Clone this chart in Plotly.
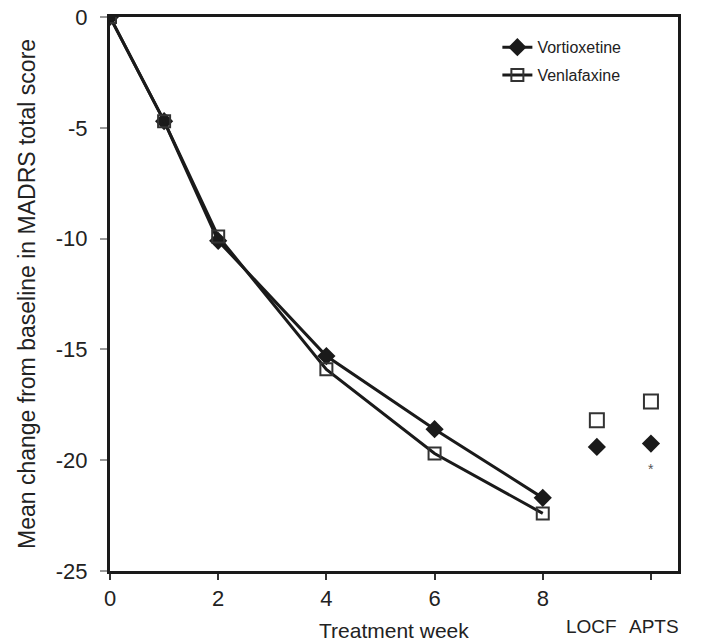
import plotly.graph_objects as go

weeks = [0, 1, 2, 4, 6, 8]
vortioxetine = [0, -4.7, -10.1, -15.3, -18.6, -21.7]
venlafaxine = [0, -4.7, -9.9, -15.9, -19.7, -22.4]
extra_x = [9, 10]
extra_labels = ["LOCF", "APTS"]
extra_label_x = [8.91, 10.05]
vort_extra = [-19.4, -19.25]
venl_extra = [-18.2, -17.35]
x_ticks = [0, 2, 4, 6, 8, 10]
x_ticktext = ["0", "2", "4", "6", "8", ""]
y_ticks = [0, -5, -10, -15, -20, -25]
y_ticktext = ["0", "-5", "-10", "-15", "-20", "-25"]

FONT = "Liberation Sans, Arial, sans-serif"
TXT = "#222222"
fig = go.Figure()
fig.add_trace(go.Scatter(x=weeks, y=vortioxetine, mode="lines+markers", name="Vortioxetine",
                         legendgroup="a",
                         line=dict(color="#1a1a1a", width=3),
                         marker=dict(symbol="diamond", size=14, color="#1a1a1a")))
fig.add_trace(go.Scatter(x=weeks, y=venlafaxine, mode="lines+markers", name="Venlafaxine",
                         legendgroup="b",
                         line=dict(color="#1a1a1a", width=3),
                         marker=dict(symbol="square-open", size=12, color="#333333", line=dict(width=2))))
fig.add_trace(go.Scatter(x=extra_x, y=vort_extra, mode="markers", showlegend=False,
                         marker=dict(symbol="diamond", size=14, color="#1a1a1a")))
fig.add_trace(go.Scatter(x=extra_x, y=venl_extra, mode="markers", showlegend=False,
                         marker=dict(symbol="square-open", size=14, color="#333333", line=dict(width=2))))

annotations = [
    dict(x=10, y=-20.4, text="*", showarrow=False, font=dict(size=14, color="#555", family=FONT)),
    dict(x=0.5, xref="paper", y=0, yref="paper", yshift=-59, yanchor="middle", xanchor="center",
         text="Treatment week", showarrow=False, font=dict(size=21, color=TXT, family=FONT)),
    dict(x=0, xref="paper", xshift=-83, y=0.5, yref="paper", xanchor="center", yanchor="middle",
         text="Mean change from baseline in MADRS total score",
         textangle=-90, showarrow=False, font=dict(size=23, color=TXT, family=FONT)),
]
for xv, lab in zip(extra_label_x, extra_labels):
    annotations.append(dict(x=xv, y=0, yref="paper", yshift=-55, text=lab, showarrow=False,
                            xanchor="center", yanchor="middle", font=dict(size=19, color=TXT, family=FONT)))

fig.update_layout(
    width=695, height=634, margin=dict(l=102, r=25, t=9, b=71, autoexpand=False),
    paper_bgcolor="white", plot_bgcolor="white",
    font=dict(family=FONT, size=18, color=TXT),
    annotations=annotations,
    legend=dict(x=0.682, y=0.976, xanchor="left", yanchor="top", bgcolor="rgba(0,0,0,0)",
                font=dict(size=16, family=FONT, color=TXT), tracegroupgap=4),
    xaxis=dict(range=[0, 10.5], tickvals=x_ticks, ticktext=x_ticktext, showgrid=False, zeroline=False,
               showline=True, linecolor="#1a1a1a", linewidth=3, mirror=True, automargin=False,
               ticks="outside", ticklen=6, tickcolor="#333", tickwidth=1.5,
               ticklabeloverflow="allow",
               tickfont=dict(size=22, family=FONT, color=TXT)),
    yaxis=dict(range=[-25, 0], tickvals=y_ticks, ticktext=y_ticktext, showgrid=False, zeroline=False,
               showline=True, linecolor="#1a1a1a", linewidth=3, mirror=True, automargin=False,
               ticks="outside", ticklen=7, tickcolor="#999", tickwidth=1.5,
               ticklabeloverflow="allow", ticklabelstandoff=8,
               tickfont=dict(size=22, family=FONT, color=TXT)),
)
fig.write_html("out.html")
